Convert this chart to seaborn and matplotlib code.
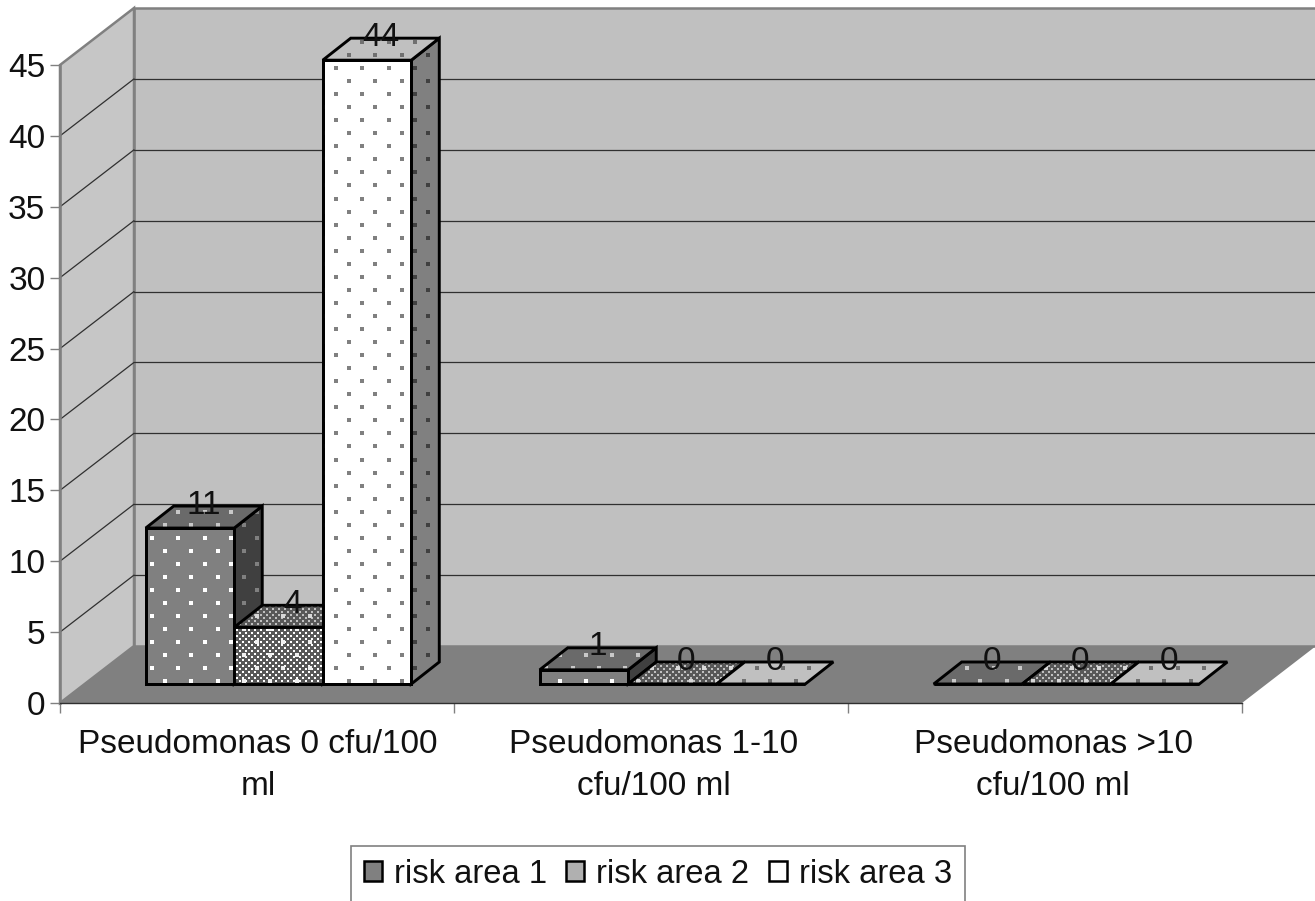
import numpy as np
import pandas as pd
import matplotlib
matplotlib.use("Agg")
import matplotlib.pyplot as plt
import seaborn as sns
from matplotlib.patches import Polygon, Patch
from matplotlib.lines import Line2D
from matplotlib.transforms import Affine2D, IdentityTransform

categories = ["Pseudomonas 0 cfu/100\nml", "Pseudomonas 1-10\ncfu/100 ml", "Pseudomonas >10\ncfu/100 ml"]
series_names = ["risk area 1", "risk area 2", "risk area 3"]
risk1 = [11, 1, 0]
risk2 = [4, 0, 0]
risk3 = [44, 0, 0]
y_ticks = [0, 5, 10, 15, 20, 25, 30, 35, 40, 45]

W, H = 1315, 901
sns.set_theme(style="white")
plt.rcParams["font.family"] = ["Liberation Sans", "DejaVu Sans"]
FS = 24
TICK_FS = 24
EDGE = 2.1

df = pd.DataFrame({
    "cat": np.repeat(categories, 3),
    "series": series_names * 3,
    "value": [v for trio in zip(risk1, risk2, risk3) for v in trio],
})

fig = plt.figure(figsize=(W / 100, H / 100), dpi=100, facecolor="white")
ax = fig.add_axes([60 / W, (H - 703) / H, (1242 - 60) / W, 638 / H])
ax.patch.set_alpha(0)

front = ["#808080", "#ffffff", "#ffffff"]
sns.barplot(data=df, x="cat", y="value", hue="series", order=categories,
            hue_order=series_names, palette=front, width=0.674, saturation=1,
            edgecolor="black", linewidth=EDGE, legend=False, ax=ax, zorder=5)
ax.set_xlim(-0.5, 2.5)
ax.set_ylim(0, 45)
ax.set_xlabel("")
ax.set_ylabel("")

ID = IdentityTransform()
WALL = (74, 57)        # depth of the chart box, px
BAR_SHIFT = (21.5, 19) # bars stand this far behind the front plane, px
DEPTH = (28, 22)       # depth of a bar, px
GRAY = "#808080"


def d2p(x, y):
    return ax.transData.transform((x, y))


def poly(pts, fc, ec="none", lw=0, z=1):
    p = Polygon(pts, closed=True, facecolor=fc, edgecolor=ec, linewidth=lw,
                transform=ID, zorder=z, joinstyle="miter")
    ax.add_patch(p)
    p.set_clip_on(False)
    return p


# walls and floor
fl, fb = d2p(-0.5, 0)
fr, ft = d2p(2.5, 45)
wx, wy = WALL
poly([(fl + wx, fb + wy), (fr + wx, fb + wy), (fr + wx, ft + wy), (fl + wx, ft + wy)], "#c0c0c0", GRAY, 1.8, 1)
poly([(fl, fb), (fl + wx, fb + wy), (fl + wx, ft + wy), (fl, ft)], "#c6c6c6", GRAY, 1.8, 1.1)
poly([(fl, fb), (fl + wx, fb + wy), (fr + wx, fb + wy), (fr, fb)], GRAY, "none", 0, 1.2)
for v in y_ticks[1:-1]:
    _, yy = d2p(0, v)
    for xs, ys in (([fl, fl + wx], [yy, yy + wy]), ([fl + wx, fr + wx], [yy + wy, yy + wy])):
        ln = Line2D(xs, ys, color="#303030", lw=0.9, transform=ID, zorder=1.5)
        ax.add_line(ln)
        ln.set_clip_on(False)


def pts_patch(pts):
    return Polygon(pts, closed=True, transform=ID, facecolor="none", edgecolor="none")


def dots(pts_poly, color, z):
    """staggered dot pattern clipped to a face"""
    xs, ys = [], []
    for k in range(-5, 60):
        y = H - 68 - 13.05 * k
        for m in range(-14, 40):
            xs.append(336 + 26.3 * m + (13.15 if k % 2 else 0))
            ys.append(y)
    xs, ys = np.array(xs), np.array(ys)
    arr = np.array(pts_poly)
    keep = (xs > arr[:, 0].min()) & (xs < arr[:, 0].max()) & (ys > arr[:, 1].min()) & (ys < arr[:, 1].max())
    c = ax.scatter(xs[keep], ys[keep], s=6.5, marker="s", color=color, linewidths=0, transform=ID, zorder=z)
    c.set_clip_path(pts_patch(pts_poly))
    return c


def checker(pts_poly, color, z):
    arr = np.array(pts_poly)
    x0, x1, y0, y1 = arr[:, 0].min(), arr[:, 0].max(), arr[:, 1].min(), arr[:, 1].max()
    xs, ys = [], []
    for r, y in enumerate(np.arange(y0, y1 + 3, 3.0)):
        for x in np.arange(x0 + (3 if r % 2 else 0), x1 + 3, 6.0):
            xs.append(x)
            ys.append(y)
    if not xs:
        return
    c = ax.scatter(xs, ys, s=4.8, marker="s", color=color, linewidths=0, transform=ID, zorder=z)
    c.set_clip_path(pts_patch(pts_poly))


STY = [
    dict(front_dot="#ffffff", top="#6a6a6a", top_dot="#c8c8c8", side="#404040", side_dot="#808080"),
    dict(front_dot="#f0f0f0", top="#c0c0c0", top_dot="#d8d8d8", side="#606060", side_dot="#a0a0a0"),
    dict(front_dot="#808080", top="#c0c0c0", top_dot="#707070", side="#808080", side_dot="#404040"),
]
bar_tf = ax.transData + Affine2D().translate(*BAR_SHIFT)
dx, dy = DEPTH
labels_xy = []
z = 5.0
for g in range(3):
    for s, cont in enumerate(ax.containers):
        b = cont.patches[g]
        x0, w, h = b.get_x(), b.get_width(), b.get_height()
        (px0, py0) = d2p(x0, 0) + np.array(BAR_SHIFT)
        (px1, py1) = d2p(x0 + w, h) + np.array(BAR_SHIFT)
        st = STY[s]
        side_pts = [(px1, py0), (px1 + dx, py0 + dy), (px1 + dx, py1 + dy), (px1, py1)]
        top_pts = [(px0, py1), (px0 + dx, py1 + dy), (px1 + dx, py1 + dy), (px1, py1)]
        front_pts = [(px0, py0), (px1, py0), (px1, py1), (px0, py1)]
        # side
        if h > 0:
            poly(side_pts, st["side"], "none", 0, z)
            dots(side_pts, st["side_dot"], z + 0.01)
            poly(side_pts, "none", "black", EDGE, z + 0.02)
        # top
        poly(top_pts, st["top"], "none", 0, z + 0.03)
        if s == 1:
            checker(top_pts, "#585858", z + 0.04)
        dots(top_pts, st["top_dot"], z + 0.05)
        poly(top_pts, "none", "black", EDGE, z + 0.06)
        # front: the seaborn bar itself
        b.set_transform(bar_tf)
        b.set_clip_on(False)
        b.set_zorder(z + 0.07)
        if h > 0:
            if s == 1:
                checker(front_pts, "#585858", z + 0.08)
            dots(front_pts, st["front_dot"], z + 0.09)
            poly(front_pts, "none", "black", EDGE, z + 0.1)
        labels_xy.append((x0 + w / 2, h))
        z += 0.2

label_tf = ax.transData + Affine2D().translate(BAR_SHIFT[0] + 14, BAR_SHIFT[1] + 23)
for x, v in labels_xy:
    ax.text(x, v, f"{int(v)}", transform=label_tf, ha="center", va="center",
            fontsize=TICK_FS, color="#111111", zorder=20, clip_on=False)

# axes furniture
for name, sp in ax.spines.items():
    sp.set_visible(name in ("left", "bottom"))
ax.spines["left"].set_color(GRAY)
ax.spines["left"].set_linewidth(1.8)
ax.spines["bottom"].set_color("#303030")
ax.spines["bottom"].set_linewidth(1.0)
ax.set_yticks(y_ticks)
ax.tick_params(axis="y", length=7, width=1, color=GRAY, labelsize=TICK_FS, labelcolor="#111111", pad=3.5, left=True)
ax.set_xticks([0, 1, 2])
ax.set_xticklabels(categories, fontsize=FS, color="#111111", linespacing=1.43)
ax.set_xticks([-0.5, 0.5, 1.5, 2.5], minor=True)
ax.tick_params(axis="x", which="major", length=0, pad=19, bottom=False)
ax.tick_params(axis="x", which="minor", length=7, width=1, color=GRAY, bottom=True)
for lab, shift in zip(ax.get_xticklabels(), [1, 3, 8]):
    lab.set_transform(lab.get_transform() + Affine2D().translate(shift, 0))

handles = [Patch(facecolor="#808080", edgecolor="black", linewidth=1.8),
           Patch(facecolor="#b0b0b0", edgecolor="black", linewidth=1.8),
           Patch(facecolor="#ffffff", edgecolor="black", linewidth=1.8)]
leg = fig.legend(handles, series_names, ncols=3, loc="upper left",
                 bbox_to_anchor=(351 / W, (H - 846) / H), fontsize=23.6,
                 borderaxespad=0, frameon=True, fancybox=False, edgecolor=GRAY, framealpha=1,
                 handlelength=0.55, handleheight=0.55, handletextpad=0.36,
                 columnspacing=0.6, borderpad=0.39, labelcolor="#111111")
leg.get_frame().set_linewidth(1.2)

fig.savefig("out.png", dpi=100)
